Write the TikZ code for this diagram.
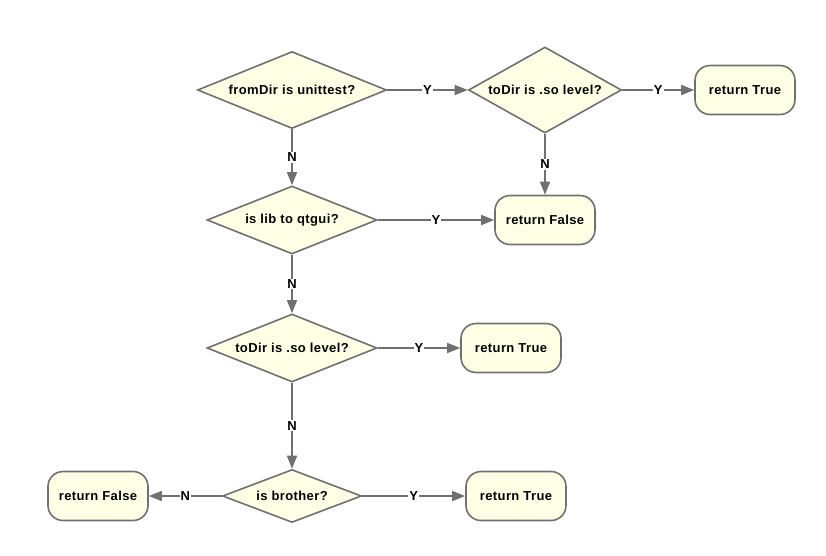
\documentclass[tikz,border=0pt]{standalone}
\usepackage{fontspec}
\setmainfont{Liberation Sans}[LetterSpace=3]
\usepackage{tikz}
\usetikzlibrary{shapes.geometric, arrows.meta}
\definecolor{ivory}{RGB}{255, 255, 230}
\definecolor{edge}{RGB}{112, 112, 112}

\begin{document}
\begin{tikzpicture}[x=1pt, y=-1pt,
  font=\fontsize{13}{15}\selectfont\bfseries,
  test/.style={diamond, draw=edge, fill=ivory, line width=1.6pt, inner sep=0pt},
  result/.style={rectangle, rounded corners=15pt, draw=edge, fill=ivory, line width=1.6pt,
    minimum width=100pt, minimum height=49pt},
  flow/.style={draw=edge, line width=1.6pt, -{Triangle[length=13pt, width=10pt]}},
  answer/.style={fill=white, inner sep=1pt, text=black}]
\useasboundingbox (0, 0) rectangle (826, 555);
% decisions
\node [test, aspect=2.45, minimum width=189pt, minimum height=77pt] (fromdir) at (292, 90) {fromDir is unittest?};
\node [test, aspect=1.78, minimum width=153pt, minimum height=86pt] (todir) at (545, 90) {toDir is .so level?};
\node [test, aspect=2.5, minimum width=170pt, minimum height=68pt] (qtgui) at (292, 220) {is lib to qtgui?};
\node [test, aspect=2.5, minimum width=170pt, minimum height=68pt] (solevel) at (292, 348) {toDir is .so level?};
\node [test, aspect=2.62, minimum width=139pt, minimum height=53pt] (brother) at (292, 496) {is brother?};
% results
\node [result] (true1) at (745, 90) {return True};
\node [result] (false1) at (545, 220) {return False};
\node [result] (true2) at (511, 348) {return True};
\node [result] (false2) at (98, 496) {return False};
\node [result] (true3) at (516, 496) {return True};
% connectors
\draw [flow] (fromdir) -- node [answer] {Y} (todir);
\draw [flow] (todir) -- node [answer] {Y} (true1);
\draw [flow] (fromdir) -- node [answer] {N} (qtgui);
\draw [flow] (todir) -- node [answer] {N} (false1);
\draw [flow] (qtgui) -- node [answer] {Y} (false1);
\draw [flow] (qtgui) -- node [answer] {N} (solevel);
\draw [flow] (solevel) -- node [answer] {Y} (true2);
\draw [flow] (solevel) -- node [answer] {N} (brother);
\draw [flow] (brother) -- node [answer] {N} (false2);
\draw [flow] (brother) -- node [answer] {Y} (true3);
\end{tikzpicture}
\end{document}
